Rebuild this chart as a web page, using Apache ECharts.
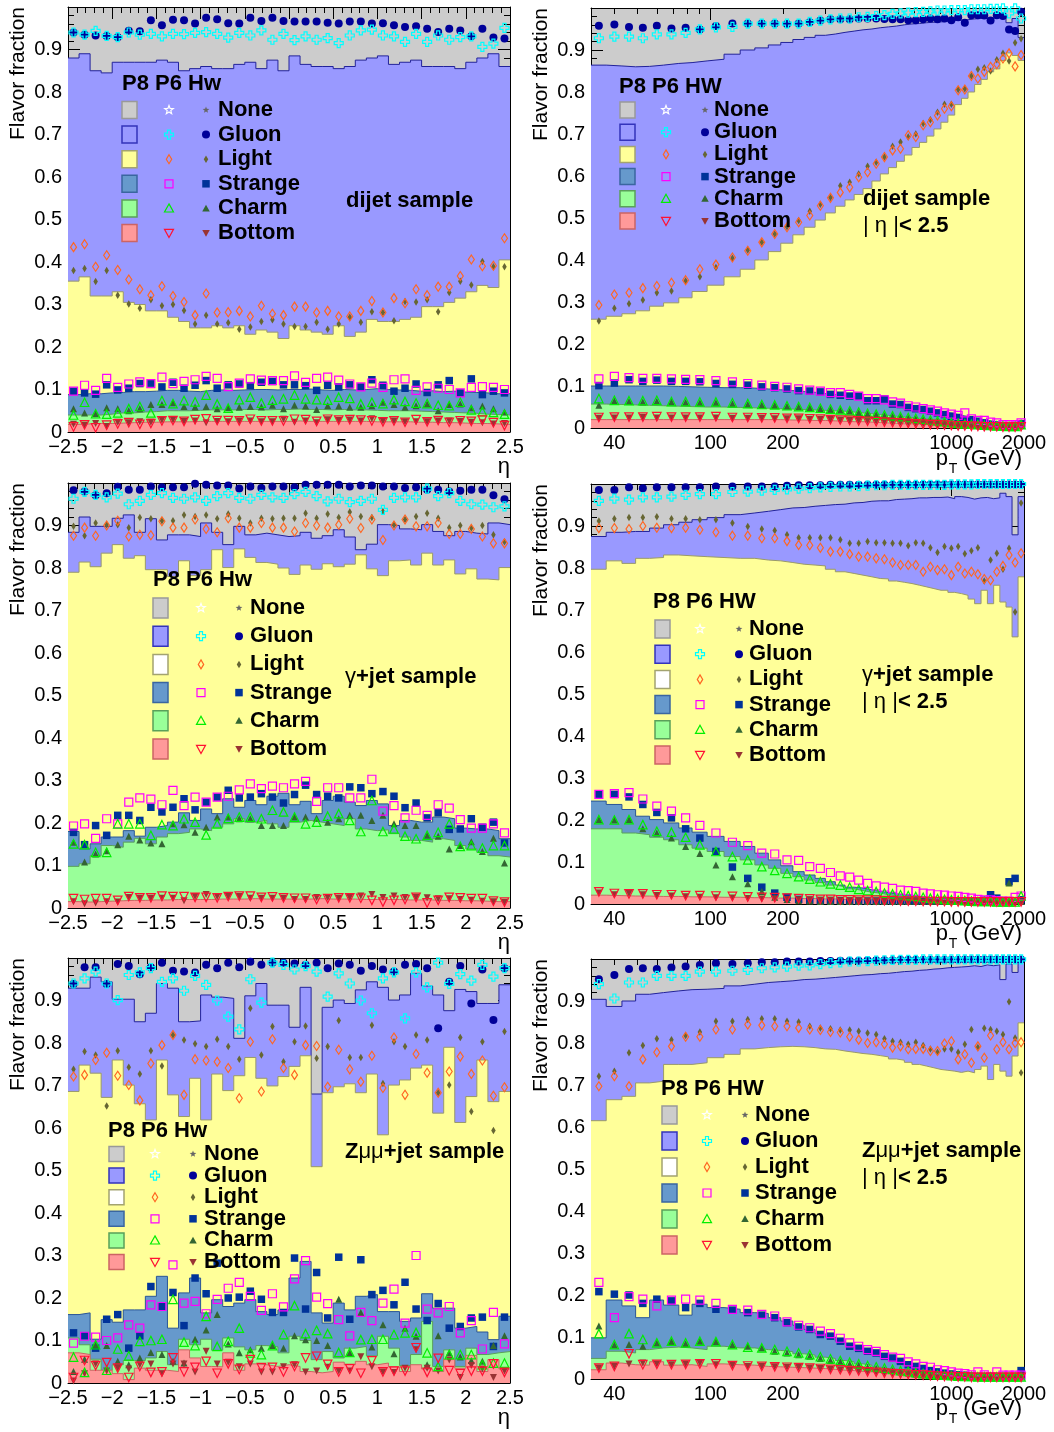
<!DOCTYPE html>
<html><head><meta charset="utf-8">
<script src="https://cdn.jsdelivr.net/npm/echarts@6/dist/echarts.min.js"></script>
<style>html,body{margin:0;padding:0;background:#fff}#c{width:1054px;height:1432px}</style>
</head><body><div id="c"></div>
<script>
// ---------- binning / tick labels ----------
const ETA_NBINS = 40;
const ETA_EDGES = Array.from({length: ETA_NBINS + 1}, (_, i) => -2.5 + i * 0.125);
const PT_EDGES = [32,37,43,49,56,64,74,84,97,114,133,153,174,196,220,245,272,300,330,362,395,430,468,507,548,592,638,686,737,790,846,905,967,1032,1101,1172,1248,1327,1410,1497,1588,1684,1784,1890,2000];
const PT_LABELS = [40,100,200,1000,2000];
const PT_MAJOR = [100,1000];
const PT_MINOR = [40,50,60,70,80,90,200,300,400,500,600,700,800,900,2000];
const LEGEND_ROWS = ['None','Gluon','Light','Strange','Charm','Bottom'];

// ---------- values (percent, cumulative fractions) ----------
// dijet, eta
const dijetEta_P8_gluon = [88,89,85,84.5,87,87,87,87,87.5,87,85,85.5,86,85.5,85.5,86.5,87,85.5,87.5,85,88.5,86.5,86,86,85.5,86,87.5,88,88.5,86.5,87,87.5,86,86,86,85.5,87,88,89,86];
const dijetEta_P8_light = [35.5,36.5,32,32,33,30.5,30,28.5,28.5,27,26,24.5,24.5,25,24.5,25,23,24,23.5,22,25,24,23.5,23,25,22.5,23.5,26.5,26,26,26.5,27,29.5,29.5,30.5,31.5,33,34.5,34,40.5];
const dijetEta_P8_strange = [8.8,9,9,9.2,9.3,9.5,9.5,9.6,9.8,9.8,9.6,9.5,9.8,9.9,9.8,9.9,10,10,9.9,10,10,10.1,9.9,9.8,10,9.9,10,10.2,10,9.9,9.8,9.6,9.7,9.5,9.6,9.4,9.3,9.2,9,9];
const dijetEta_P8_charm = [4,4,4,4.2,4.5,4.5,4.7,4.8,5,5,5,5.1,5.2,5.2,5.2,5.3,5.3,5.2,5.3,5.3,5.4,5.3,5.3,5.2,5.3,5.2,5.2,5.1,5,5,5,4.9,4.8,4.7,4.6,4.5,4.4,4.2,4.1,4];
const dijetEta_P8_bottom = [1.8,1.9,2,2,2.1,2.2,2.3,2.3,2.4,2.4,2.4,2.5,2.5,2.5,2.5,2.5,2.5,2.5,2.5,2.5,2.6,2.5,2.5,2.5,2.5,2.5,2.5,2.4,2.4,2.4,2.4,2.3,2.3,2.2,2.2,2.1,2,2,1.9,1.8];
const dijetEta_HW_gluon = [94,93.5,93.3,93.2,92.9,94.4,94.3,96.9,95.7,97,96.9,96.1,97.5,97.1,96.2,96.1,97.5,96.7,97.5,96.7,96.6,96.6,96.6,96.3,96.1,96.6,96.6,96.1,96.2,95.7,95.3,95.5,94.9,94.1,94.9,94.5,93.1,94.9,92.8,92.6];
const dijetEta_P6_gluon = [94,93.5,94.4,93.2,92.9,94,93.5,93.7,93.1,93.7,93.6,93.9,94.1,93.7,92.8,93.9,93.3,94.5,92.3,93.7,92.2,93.1,92.3,92.7,91.5,93.3,94.5,94.7,93.3,93.1,91.8,93.7,91.8,93.3,92.3,92.9,93.1,90.6,91.4,95.1];
const dijetEta_HW_light = [38,38.5,35.4,38,32.2,30.1,29.1,31.1,29.7,30,28.6,25.4,27.5,25.4,25.7,24.2,24.7,26,26.4,25.4,24.8,24.8,25.8,24.2,25.4,27,25.8,28.3,28.1,26.2,30.7,30.6,31.1,28.3,32.8,35.5,34.6,40.1,38.9,38.9];
const dijetEta_P6_light = [43.5,44.2,38.9,41.6,38.1,35.9,33.6,32.2,34.3,32,30.6,27.5,32.6,28.1,28.2,28.5,27.2,29.7,27.8,27.5,29.5,29.5,28.1,28.5,27.2,27.2,28.5,30.8,28.1,31.5,30.3,33.6,32.2,34.2,34.2,36.7,40.6,39,39.1,45.6];
const dijetEta_HW_strange = [9.6,9.2,8.9,11.1,9.9,10.3,11.4,11.5,10.6,11.7,10.3,11,12.1,10.3,11.1,11.3,10.9,11.7,11.9,11.1,11.1,10.9,9.8,11,10.6,11.1,10.6,12.3,11,9.6,10.3,11.3,9.3,11.1,12.1,9.2,12.5,8.8,9.6,9.2];
const dijetEta_P6_strange = [9.6,11,9.8,12.6,10.5,11.3,11.8,11.4,12.9,11.4,11.9,12.3,13.1,12.6,10.7,11.5,12.5,12.2,12.1,12.1,13.2,11.7,12.6,12.9,12.2,11.3,10.6,11.5,10.5,12.3,12.5,9.8,10.6,10.3,10,9.2,10.5,10.7,10.5,10];
const dijetEta_HW_charm = [5.5,4.5,4.3,5.7,5.5,5,5.5,6.5,6.5,6.9,6,5.9,6,5.5,5.7,5.8,6,5.9,6.3,5.5,6.3,6.1,5.3,6.2,6.1,5.8,5.8,6.2,7,6.5,5.8,6.2,6.6,5,6.5,6.6,5.7,6.1,5.5,4.7];
const dijetEta_P6_charm = [4,7,4.3,4.2,4.5,5.5,6,4.5,7.4,6.7,7.4,7.1,8.7,6.6,5.6,7.6,8.2,6.8,7.5,7.8,8.7,7.8,7.6,7.5,8.2,7.9,6.6,7,6.7,7.6,7.2,6.8,6.7,6.3,6.2,7,5.2,4.8,4.6,4.2];
const dijetEta_HW_bottom = [1.8,1.6,2,1.3,2.3,2.2,2.4,2.3,2.8,2.9,2.5,2.6,2.2,2.5,2.4,2.6,2.6,2.4,2.4,3,2.3,2.6,2.2,2.9,2.7,2.8,2.6,3.1,2.6,2.6,2.4,2.4,2.4,2.6,2.6,2.5,2.3,2.2,1.9,2];
const dijetEta_P6_bottom = [1.2,1.7,1,1.6,1.9,2.2,1.8,2,2.6,2.7,2.5,2.9,3.1,2.7,2.7,2.6,3,2.6,2.6,2.6,3,2.9,2.5,3,2.8,2.9,2.8,2.6,2.4,2.6,2.3,2.9,2.4,2.7,2.3,2.6,2.5,2.8,2.2,1.5];
// dijet, pT
const dijetPt_P8_gluon = [86.4,86.2,86,86.1,86.4,86.8,87,87.4,87.8,89,90,90.5,91.2,91.8,92.5,93,93.5,93.8,94.2,94.5,94.8,95,95.3,95.5,95.7,96,96.2,96.3,96.5,96.6,96.7,96.8,97,97.1,97.2,97.4,97.5,97.5,97.6,97.7,97.8,96.5,97.5,93];
const dijetPt_P8_light = [25.9,26.6,27.2,27.9,29,29.8,31,32.5,34,36,37.8,40,42,44,46,47.8,49.5,51.2,52.8,54.3,55.6,57,58.8,60.5,62,63.5,65,66.8,68,69.5,71.2,72.8,74.5,77,78.5,80,81.8,83,84.8,85.5,87.5,89.3,88.7,87.5];
const dijetPt_P8_strange = [10,10,10,10,10,9.9,9.8,9.7,9.6,9.6,9.5,9.3,9.1,8.9,8.7,8.5,8.2,8,7.8,7.5,7.2,6.9,6.6,6.2,5.9,5.6,5.2,4.9,4.6,4.3,4,3.7,3.4,3,2.7,2.4,2.1,1.8,1.6,1.4,1.2,1,0.9,1.2];
const dijetPt_P8_charm = [5.7,5.6,5.5,5.4,5.3,5.2,5.1,5,5,4.9,4.8,4.7,4.6,4.5,4.4,4.3,4.2,4.1,4,3.8,3.6,3.4,3.2,3,2.8,2.6,2.5,2.3,2.1,2,1.8,1.6,1.4,1.3,1.1,1,0.9,0.7,0.6,0.5,0.4,0.4,0.3,0.8];
const dijetPt_P8_bottom = [2,2,2,2,2,2,2,2,2,2,2,2,2,1.9,1.9,1.8,1.8,1.7,1.6,1.5,1.5,1.4,1.3,1.2,1.1,1,1,0.9,0.8,0.8,0.7,0.6,0.6,0.5,0.4,0.4,0.3,0.3,0.3,0.2,0.2,0.2,0.2,0.3];
const dijetPt_HW_gluon = [95.8,96.1,95.5,95.3,95.8,95.1,95.3,94.9,95.7,96.3,96.3,96.3,96.3,96.2,96.3,96.6,97,97.3,97.3,97.3,97.5,97.5,97.5,97.4,97.3,97.3,97.1,97.1,97.3,97.5,97.3,97.5,97.1,97.8,96.5,98.3,98.3,98.2,97,98.3,98.1,94.9,94.5,99.1];
const dijetPt_P6_gluon = [92.8,93.2,93.2,92.8,93.7,93.7,94.1,94.9,95.4,95.5,96.3,96.3,96.3,96.3,96.3,96.7,97,97.3,97.5,97.5,97.8,97.9,98.1,98.3,98.6,98.7,98.9,99,99.1,99.2,99.4,99.4,99.5,99.5,99.5,99.7,99.7,99.7,99.8,99.8,99.9,98.7,99.9,97.5];
const dijetPt_HW_light = [25.5,28.5,29.6,30.5,32.2,32.6,35,36,38.2,40.4,42.4,44.2,46.2,47.9,49.4,51.6,53.3,54.9,57.7,58.5,60.5,62.3,63.3,64.5,67.1,68.1,69.3,70,72.5,73.4,75.2,77.1,77.1,80.6,80.8,83.8,85.4,85.8,85,87.7,89.2,87.4,91.7,92.7];
const dijetPt_P6_light = [29.3,31.8,32.2,33.3,33.8,34.6,35.2,37.8,38.9,40.6,42.2,44.2,46.2,47.8,49,50.6,52.9,54.8,56.1,57.3,59.7,60.9,62.9,64.5,66.1,66.5,69.7,69.3,72.1,72.8,74.4,76,76.6,80.4,80.6,83.8,83.2,84.8,86,86.6,88,89.2,86.1,88.8];
const dijetPt_HW_strange = [10.1,10.7,11.5,11.1,11.4,11.1,11.1,11,10.6,10.4,10.2,9.8,9.6,9.3,8.9,8.8,8.6,8,7.8,7.6,7.6,6.5,6.5,6.9,5.7,5.6,4.9,4.6,4.4,4,3.6,3.2,2.8,2.5,2,2,1.6,1.2,0.8,0.6,0.4,0.4,0.6,1];
const dijetPt_P6_strange = [11.7,12.3,12,11.8,11.8,11.7,11.6,11.5,11.3,11,10.6,10.2,9.9,9.7,9.3,9,8.8,8.4,8.4,8,7.6,7,7,6.7,6.2,5.9,5.3,5,4.6,4.3,4,3.6,3.3,3,3.6,2.2,1.8,1.8,1.4,1.2,0.8,0.8,0.8,1.2];
const dijetPt_HW_charm = [5.4,6.4,6.3,6.2,6.3,6.2,6.1,6,6,5.8,5.6,5.5,5.4,5.2,5,4.8,4.6,4.4,4.2,4,3.7,3.4,3.2,3,2.8,2.6,2.4,2.2,2,1.8,1.6,1.4,1.2,1,0.9,0.8,0.7,0.6,0.5,0.5,0.4,0.4,0.3,0.6];
const dijetPt_P6_charm = [7,6.6,6.5,6.5,6.6,6.3,6.3,6.2,6.2,6,5.8,5.6,5.5,5.3,5.1,4.9,4.7,4.5,4.3,4.1,3.8,3.5,3.3,3.1,2.9,2.7,2.5,2.3,2.1,1.9,1.7,1.5,1.3,1.1,1,0.9,0.8,0.7,0.6,0.5,0.5,0.4,0.4,0.8];
const dijetPt_HW_bottom = [2.3,2.4,2.4,2.5,2.4,2.4,2.4,2.4,2.4,2.3,2.3,2.3,2.2,2.2,2.2,2.1,2,2,1.9,1.8,1.8,1.7,1.6,1.5,1.4,1.3,1.2,1.1,1,0.9,0.8,0.7,0.6,0.5,0.5,0.4,0.4,0.3,0.3,0.3,0.2,0.2,0.2,0.3];
const dijetPt_P6_bottom = [2.5,2.6,2.6,2.6,2.7,2.6,2.6,2.6,2.7,2.5,2.5,2.4,2.4,2.3,2.3,2.2,2.1,2,1.9,1.8,1.7,1.6,1.5,1.4,1.3,1.2,1.1,1,0.9,0.8,0.8,0.7,0.6,0.5,0.5,0.4,0.4,0.3,0.3,0.3,0.2,0.2,0.2,0.3];
// gamma+jet, eta
const gjEta_P8_gluon = [88.4,92,89.8,89.8,91.7,92.5,88.4,91.6,86.6,87.8,87.8,87.4,90.6,88.4,85.5,89.8,87.8,88.2,87.8,87.4,87.6,88.4,87,87.6,89,87.3,84.3,85.6,90.2,90,89.2,89,90.2,88.6,87.6,88.6,88.2,88,90.6,90.2];
const gjEta_P8_light = [79,81.4,80.3,83.5,85.5,82.3,82.9,79.6,79.6,78,81.7,78.2,79.6,84.3,80.1,84.5,82.5,81.3,80.9,80,78.5,80.7,79.7,81,80.3,80.9,83.1,79.8,78.2,81.7,81.9,80.7,83.5,80.7,81.9,78.6,79.8,77.4,77.2,80.1];
const gjEta_P8_strange = [18,13.9,15.1,16.7,16.7,18.2,16.9,19,19.4,20.2,22.4,20.6,23.3,22.2,25.7,23.7,25.3,24.3,26.3,27,24.3,25.1,22.2,25.3,26.3,24.9,24.1,25.3,24.5,19.4,20.6,20.2,20.2,21.4,21,18.8,18.6,18.6,18.2,16.3];
const gjEta_P8_charm = [9.8,10.4,12.3,14.7,14.3,15.5,16.4,15.1,16.7,17.5,17.8,18.6,18.2,19,19.8,21,20.2,20.6,19.8,19,20.2,20.6,20.2,19.8,19.4,21,18.6,18.2,18.4,17.5,16.7,15.9,15.5,16.3,15.9,14.7,13.9,13.1,12.3,12];
const gjEta_P8_bottom = [1.5,1.4,1.5,1.6,1.7,1.8,1.8,1.9,1.9,2,2,2,2,2.1,2.1,2.1,2.2,2.1,2.1,2.1,2.1,2.1,2.2,2.1,2.1,2.1,2,2,2,2,1.9,1.9,1.9,1.8,1.8,1.7,1.7,1.6,1.5,1.5];
const gjEta_HW_gluon = [98.3,98,97.1,97.6,99.1,98.4,98.4,99.2,99,99,99,99.8,99.6,99.4,99.4,98.7,99.2,98.8,99.2,99.2,99,99.6,99.6,99.6,99.6,99.2,99.4,99.4,99.2,99.2,98.8,99,98.4,98.4,98,98.2,98.4,98.4,97.1,96.2];
const gjEta_P6_gluon = [96.3,97.9,97.2,96.6,97.5,95,95.8,97.2,97.6,96.5,96.3,96.6,95.8,96.9,97.6,96.5,96.3,97.2,96.6,96.5,97.4,97.9,96.9,95.7,96.3,95.5,95.8,96.3,93.7,96.5,96.6,96.6,98.7,96.9,97.6,95.8,95,94.9,94.3,94.5];
const gjEta_HW_light = [89.8,87.6,90.6,90.2,90.2,89.5,91.9,91.6,91.1,91.1,92.5,92.1,92.5,91.6,92.7,91.7,90.6,91.7,91.6,91.7,91.7,92.9,91.7,92.7,91.9,93.2,92.1,91.9,93.3,90.2,91.4,92.1,92.9,91.7,89.5,90,89.4,90,87.8,86.2];
const gjEta_P6_light = [87.6,89.5,87.6,90,91.1,87.4,87.8,87.7,91,89.5,89.5,91.4,89.2,88.4,91.7,89.5,89.5,90.6,89.5,89.5,88.6,90.6,90,89.5,90.2,91.6,89.4,91.4,86.6,90,91.4,89.8,89.8,90.6,88,88,89.2,87.4,85.8,85.8];
const gjEta_HW_strange = [17.8,14.9,19.4,17.1,21.8,21.8,20.6,23.7,22.6,23.7,25.7,23.1,24.9,26.1,27.7,25.9,26.1,26.9,26.1,24.7,26.7,28.9,26.7,26.3,25.9,28.5,28.3,26.9,27.4,26.3,23.6,24.7,21.2,22.4,18.5,18.6,21,19,20.2,15.3];
const gjEta_P6_strange = [19.3,19.8,16.4,21,19.8,24.9,25.9,25.6,24.3,27.7,24.1,26.1,24.9,26.1,26.3,27.8,29.2,28.1,28.7,28.3,29.2,29.8,25.1,28.3,28.3,25.9,25.9,30.3,22.8,24.1,21.2,23,21.8,24.3,23.5,20.8,18.8,18.8,19.8,17.7];
const gjEta_HW_charm = [15.5,10.8,12.7,13.5,14.9,16.9,16,15.3,15.1,19.8,19.6,17.8,19,21.4,21.4,21,21,19.4,19.4,19.4,21.4,21.4,21.1,20.2,21,21.8,21.8,20.6,21.8,19.8,19.4,19.4,17.1,16.9,13.9,14.7,15.6,13.3,16.4,10.6];
const gjEta_P6_charm = [15.1,14.9,13.1,13.1,19.8,19.8,19.8,17.1,19.6,19.4,21,20.2,17.2,19.8,21.1,21.4,21.4,21,23,22.6,21.4,19.8,20.2,21.6,22.2,20.6,18,25.3,18,18.6,16.9,16.3,17.1,17.8,19.8,14.5,14.7,14.1,14.7,14.7];
const gjEta_HW_bottom = [1.5,1,1.2,1.5,1.4,2.5,2.3,2.3,2.3,2.3,1.7,2.7,3.2,2.7,2.7,2.7,2.3,2.3,2.3,2.3,2,2,2.5,2.5,2.3,2.5,2.8,3.2,2.5,2.8,2.5,2.5,2.4,2.2,2.2,2,1.8,1.6,1.5,1.3];
const gjEta_P6_bottom = [2.2,2,2.2,2.2,1.8,2.7,2.4,2.4,2.8,2.7,2.7,2.5,2.5,2.4,2.7,2.8,2.8,2.5,2.6,2.4,2.3,2.3,2,2.2,2.4,2.4,2.3,1.8,1.4,1.8,2,2.5,1.2,1.8,2.5,2.4,2.2,2.2,1.6,1.4];
// gamma+jet, pT
const gjPt_P8_gluon = [87.5,88.5,88.7,88.7,89.5,90.3,90.9,91.5,92,92.7,93.1,93.5,93.9,94.3,94.4,94.7,94.9,95.1,95.2,95.5,95.6,95.9,96,96,96.3,96.4,96.5,96.7,96.7,96.8,96.8,96.9,96.5,97,96.8,96.4,96.7,96.8,96.5,96.7,97.8,97,87.9,97];
const gjPt_P8_light = [79.7,81.7,81.1,82.3,82.5,83.1,82.9,82.7,82.5,82.3,82.3,81.9,81.7,81.3,80.9,80.7,80.5,79.7,79.1,78.7,78.3,77.9,77.5,77.4,76.9,76.6,76.3,75.9,75.5,75.1,74.7,74.7,74.2,73.9,73.5,72.6,71.5,74.7,71.5,75.9,71.9,70.7,63.6,77.9];
const gjPt_P8_strange = [24.5,23.7,22.5,20.9,20.1,19.3,18.1,17.1,16.1,14.9,13.7,12.1,10.5,9.1,7.7,6.9,6.1,5.3,4.5,4,3.8,3.4,3,2.7,2.4,2.2,2,1.8,1.6,1.4,1.3,1.2,1.1,1,1,0.9,0.9,0.8,0.8,0.7,0.7,0.7,0.7,1.2];
const gjPt_P8_charm = [17.9,17.9,16.9,16.5,15.9,15.3,14.1,13.3,12.5,11.3,10.5,9.3,8.5,7.3,6.5,5.7,5.1,4.5,4.1,3.6,3.2,2.8,2.6,2.2,2,1.8,1.6,1.4,1.3,1.1,1.1,1,0.9,0.8,0.8,0.7,0.7,0.6,0.6,0.6,0.6,0.6,0.6,0.8];
const gjPt_P8_bottom = [2.1,2,1.9,1.9,1.8,1.8,1.7,1.7,1.6,1.6,1.5,1.5,1.4,1.4,1.3,1.3,1.2,1.2,1.1,1.1,1,1,1,0.9,0.9,0.9,0.8,0.8,0.8,0.7,0.7,0.7,0.6,0.6,0.6,0.5,0.5,0.5,0.5,0.5,0.5,0.5,0.5,0.5];
const gjPt_HW_gluon = [98.6,98.6,99.2,99,99.2,99.2,99.2,99.2,99.4,99.4,99.4,99.4,99.4,99.6,99.7,99.7,99.7,99.8,99.8,99.8,99.8,99.8,99.8,99.8,99.8,99.8,99.8,99.8,99.9,99.9,99.9,99.9,99.9,99.9,99.9,99.9,99.9,99.9,99.9,99.9,99.9,99.9,99.9,99.9];
const gjPt_P6_gluon = [96,96.5,96.3,96.8,96.8,97,97.4,97.6,97.6,98.1,98.2,98.4,98.6,98.7,98.9,99,99.2,99.3,99.4,99.4,99.5,99.6,99.7,99.7,99.8,99.8,99.8,99.8,99.8,99.8,99.8,99.8,99.9,99.9,99.9,99.9,100,100,100,100,100,100,100,100];
const gjPt_HW_light = [91.2,91.7,92,92,92.2,91.7,91.7,91.5,91.5,90.7,89.9,89.3,88.9,87.9,87.2,87.2,87.2,87.2,86.7,85.9,85.9,86.3,86,86,85.9,85.9,85.3,86,85.9,84.8,83.7,85.1,84.7,85.1,83.4,84.1,84.8,76.9,81.9,83.5,79.7,84.7,69.5,95.5];
const gjPt_P6_light = [89.5,89.5,89.3,90,89.6,89.5,89.6,89.1,88.5,87.7,87.7,87.1,87.1,86.4,85.5,85.4,84.8,83.9,83.9,83.3,82.7,82.7,82.3,82.1,81.3,80.7,80.7,80.7,79.1,80.3,79.5,79.7,78.3,80.3,78.7,79.1,78.5,77.4,77.1,79.1,80.5,83.1,81.3,83.5];
const gjPt_HW_strange = [26.1,26.1,25.5,23.7,21.8,20.5,17.9,15.7,12.5,8.8,6.1,4,2.6,1.6,1.1,0.9,0.8,0.8,0.8,0.7,0.7,0.7,0.7,0.7,0.7,0.7,0.7,0.7,0.7,0.7,0.7,0.7,0.7,0.7,0.7,0.7,0.7,0.9,2.2,1.4,0.8,5.3,6.1,1];
const gjPt_P6_strange = [26.1,26.3,26.5,25,23.3,22.1,20.5,18.7,16.9,14.7,13.9,12.1,11.9,10.5,10.4,8.9,8.5,7.5,6.7,6.4,5.7,4.9,4.3,4,3.7,3.3,3.2,3,2.6,2.4,2.2,2.1,1.9,1.8,1.6,1.4,1.1,1,1,0.8,0.7,0.7,1.6,1.9];
const gjPt_HW_charm = [20.1,20,20.1,17.9,16.9,15.7,13.7,12,9.3,6.5,4.8,3,1.6,1.1,0.8,0.7,0.6,0.6,0.6,0.6,0.6,0.6,0.6,0.6,0.6,0.6,0.6,0.6,0.6,0.6,0.6,0.6,0.6,0.6,0.6,0.6,0.6,0.7,0.6,0.6,0.6,5,0.8,0.6];
const gjPt_P6_charm = [20.1,20,20.1,18.9,17.3,17.1,15.9,14.1,12.5,11.3,10.5,8.9,8,7.3,6.5,5.9,5.3,4.8,4.5,4,3.5,3.2,3,2.6,2.4,2.2,2,1.8,1.6,1.4,1.3,1.1,1,0.9,0.8,0.7,0.6,0.6,0.6,0.5,0.5,0.5,0.5,1.9];
const gjPt_HW_bottom = [2.6,2.2,2.5,2.2,2,1.9,1.7,1.6,1.5,1.4,1.3,1.2,1.2,1.1,1,1,0.9,0.9,0.8,0.8,0.8,0.7,0.7,0.7,0.6,0.6,0.6,0.6,0.5,0.5,0.5,0.5,0.5,0.4,0.4,0.4,0.4,0.4,0.4,0.4,0.4,0.4,0.4,0.4];
const gjPt_P6_bottom = [2.9,2.5,2.4,2.4,2.2,2.2,2,2,1.9,1.8,1.7,1.6,1.5,1.4,1.3,1.2,1.1,1.1,1,1,0.9,0.9,0.9,0.8,0.8,0.7,0.7,0.7,0.6,0.6,0.6,0.6,0.5,0.5,0.5,0.5,0.5,0.5,0.5,0.5,0.5,0.5,0.5,0.5];
// Zmumu+jet, eta
const zEta_P8_gluon = [92.9,92.9,95.5,94.4,90.3,90.3,85,87,94,92.9,85,85.2,91.3,90.8,90.5,81.1,91.1,94,88.9,88.9,83.7,93.1,68,88.4,90.1,89.3,92.5,94.4,93.1,90.1,91.3,96.4,93.4,91.3,87.6,92.6,92.1,89.3,89.3,93.7];
const zEta_P8_light = [68.6,74.8,72.9,67.2,76,70.1,65.7,61.9,76,67.8,62.7,71.7,61.9,72.7,68.8,72.3,76.6,71.7,69.9,72.1,74.5,77,50.9,68.3,69.7,70.4,68.3,72.7,58.4,70.1,71.3,74.1,74.8,63.5,79,61.3,67.4,76,66.2,68.6];
const zEta_P8_strange = [16.1,16.5,10.3,14.9,14.3,17.2,17.2,20.4,25.1,12.9,21.2,24.7,16.5,19.6,18,18.8,19.6,16.8,16.1,17.2,24.7,28.6,16.5,14.1,18.8,17.2,20.4,20.8,16.8,16.8,14.5,15.3,21,17.6,17.6,12.9,13.3,12,10.2,15.7];
const zEta_P8_charm = [10.6,9,5.6,3,4.3,5.3,5.3,5.9,7.4,4.3,10.3,9,10.3,7.7,10.6,8.5,7.8,8.8,8.5,7.1,11,10,5.5,7.4,5.9,8.2,8.6,6.4,11,8.2,4.1,6.7,14.5,3.9,7.8,3.9,8.2,6.7,7.1,7.4];
const zEta_P8_bottom = [7.1,6.7,3,3,2.2,0.8,3.5,3,3,2.7,7.8,5.9,3.9,3.8,7.1,3,4.5,4.3,3.9,4.3,3.9,2.7,2.4,2.7,4.9,4.3,5.1,4.3,4.7,3.8,2.7,4.3,3.3,2.7,5.5,3.5,6.5,2.7,5.5,3.3];
const zEta_HW_gluon = [93.9,97.8,97.8,93.9,98.6,98.1,96.2,97.8,98.9,97,96.8,96.6,98.4,97.6,98.9,97.8,99.1,98.4,98.9,98.9,98.7,98.4,98.9,97.6,98.7,98.4,97,98.1,97.3,96.8,98.4,98.6,97.6,83.5,94.4,98.1,89.3,97.3,85.4,97.6];
const zEta_P6_gluon = [94,95.2,96.8,94,90.1,96,96.6,97.6,94.4,95.2,92.3,95.8,93.7,90,86.2,83.2,95,89.5,98.9,98.4,97.3,98.1,96.8,90.9,96.4,94,90,87,95.2,96.6,85.8,96.6,93.1,98.9,93.9,96.2,94.7,98.4,95.6,97.6];
const zEta_HW_light = [73.8,78,77.2,65.2,78.2,74.3,72.7,78.2,74.6,81.9,80.7,79.8,79.2,80.9,79.2,76.2,88.2,77.2,83.9,75.6,80.3,84,76.4,79.2,85.3,76.6,76.6,84.2,70.5,80.3,79.2,81.9,80.7,68.3,70.1,81.3,63.9,80.3,59.4,82.7];
const zEta_P6_light = [72.1,72.5,76,77.7,72.3,70.1,66.5,75.2,79.5,81.9,67.8,76.2,75.9,75.6,74.1,67,80.3,68.6,80.9,74.1,72.5,79.5,79.3,69.7,78.4,73.8,70.9,77,69.4,81.3,67.8,77.4,73,68.3,73.3,76.8,72.7,75.9,67.6,69.6];
const zEta_HW_strange = [11.8,11.1,8.2,15,16.1,8.2,11.1,22.7,18,21.3,13.5,24.7,21,28.2,20,20.2,21.6,19.7,16.6,16.6,29.4,17.4,26,15.3,29.6,15,29,20.8,21.8,18.4,23.7,17.4,14.7,18.7,12.9,13.3,15.3,15.5,8.6,15.5];
const zEta_P6_strange = [9.4,11,10.8,10,10.6,13.7,12.9,18.4,18,27.8,18.8,19.2,16.3,19.7,22.3,23.7,20.4,17.1,21,17.9,24.5,28.8,20.2,18.7,14.9,11.1,16.6,14.7,18.8,22.1,14.1,30,17.4,16.5,18,11.8,14.7,8,16.6,9.2];
const zEta_HW_charm = [2.7,5.6,9,8.8,5.1,4.3,5.9,7.2,6.7,5.1,4.7,10.3,12.5,16.1,9.2,7.1,7.8,8.2,8.8,8.2,11.1,10.2,10,8.8,19.7,7.1,16.6,8.5,13.7,6.9,12.9,11,4.3,11.1,7.1,6.1,5.3,5.1,8.8,11.1];
const zEta_P6_charm = [6.1,2.5,9,3,8,6.4,9.8,10,10.3,19.7,9.6,8.8,15.7,8.6,9.8,12.9,7.1,6.7,8.8,11.4,18.2,11.6,12.4,11.6,7.2,7.2,10.2,10.3,10.3,11.4,11.8,11.9,7.1,3.9,6.7,6.7,6.7,4.3,4.7,4.7];
const zEta_HW_bottom = [0.5,2.2,4.5,2.8,3.5,3.3,4.3,4.5,2.2,4.5,4.5,2.6,7.5,4.5,4.9,3.8,4.5,2.6,2.6,3.8,4.3,2.6,2.8,3.7,2.8,2.8,6.2,3.8,2.6,2.5,3.5,7.8,3.5,2.8,5.4,1.3,4.1,3.3,1.3,2.8];
const zEta_P6_bottom = [1.3,5.3,4.1,4.8,3.5,1.3,3.9,2.5,2.6,5.9,2.6,3.7,5.1,2.3,4.5,3.2,5.5,3.6,3.7,2.6,3.9,5.9,6.3,4.4,2.6,3.4,2.3,5.2,2.6,2.8,2.8,8.3,2.5,5.8,2.9,2.2,2.8,2.8,4.5,2.5];
// Zmumu+jet, pT
const zPt_P8_gluon = [90.4,88.7,90,91.6,92,92.4,92.7,92.8,93,93.6,94,94.4,94.6,94.8,95.1,95.2,95.4,95.6,95.8,96,96.2,96.3,96.5,96.6,96.8,97,97.1,97.3,97.4,97.6,97.7,97.9,98,98.1,98.2,98.4,98.2,98.6,98.4,98.6,95.1,98.8,96.8,99.4];
const zPt_P8_light = [61.5,66.5,67.3,70.5,70.9,74.9,74.9,75.3,76.5,77.3,78.6,78.9,79.1,79.2,79.1,78.9,78.6,78.5,78.1,77.8,77.5,77.3,77,76.7,76.2,75.9,75.4,74.9,74.5,74.1,73.7,73.5,73.3,73,73.3,72.9,73.7,74.5,71.3,74.9,73.3,72.1,76.9,84.8];
const zPt_P8_strange = [9.8,18.8,17.4,14.6,18.8,17.6,15.2,17.8,17,16.6,15.8,15.6,14.6,13.8,12.8,11.8,10.8,10,9,8.2,7.4,6.6,5.8,5,4.4,3.8,3.3,2.6,2.2,1.8,1.4,1.2,1,0.9,0.8,0.7,0.6,0.6,0.5,0.5,0.5,0.5,0.5,0.5];
const zPt_P8_charm = [4.9,6.6,6.2,7,7.4,7.6,7.4,7,7.8,7.4,7.4,7,6.8,6.5,6,5.7,5.2,4.9,4.4,4.1,3.6,3.3,2.8,2.5,2.2,1.8,1.6,1.4,1.2,1,0.9,0.8,0.7,0.6,0.5,0.5,0.4,0.4,0.4,0.4,0.4,0.4,0.4,0.4];
const zPt_P8_bottom = [2.2,3.8,3.4,3.3,4.1,3.3,3.4,3,3.6,3.4,3.3,3,2.9,2.8,2.7,2.6,2.5,2.3,2.1,2,1.8,1.7,1.5,1.4,1.2,1.1,1,0.9,0.8,0.7,0.6,0.5,0.5,0.4,0.4,0.3,0.3,0.3,0.3,0.3,0.3,0.3,0.3,0.3];
const zPt_HW_gluon = [95.2,96.2,97.6,97.8,97.6,98,98.2,98.6,99,98.8,99,99.2,99.2,99.4,99.4,99.4,99.5,99.5,99.6,99.6,99.6,99.7,99.7,99.7,99.7,99.8,99.8,99.8,99.8,99.8,99.8,99.8,99.8,99.8,99.9,99.9,99.9,99.9,99.9,99.9,99.9,99.9,99.9,99.9];
const zPt_P6_gluon = [94,90.6,94.4,94.4,96,96,96,97,97,97.2,97.4,97.8,98,98.2,98.4,98.5,98.8,99,99.2,99.4,99.4,99.5,99.6,99.7,99.8,99.8,99.8,99.8,99.9,99.9,99.9,99.9,99.9,99.9,99.9,99.9,99.9,99.9,99.9,99.9,99.9,99.9,99.9,99.9];
const zPt_HW_light = [72.1,73.3,77.7,79.4,81,80.8,81.8,82.6,85.2,85.2,85.6,85.8,85.8,85.2,85,84,83.6,83.4,83.1,83.1,82.8,82.4,82,81,80.4,80.2,79.7,80.2,79.4,78.6,77.8,78.6,78.6,77.8,79.7,83.2,78.9,83.5,83.2,82.8,82,89.8,81.2,72.9];
const zPt_P6_light = [69.7,72.1,69.7,76.1,77.8,79.2,81.5,81.5,83.2,83.2,84.4,84.2,84,84,83.6,83.2,83.1,82.6,82.5,81.5,80.8,80,80.2,79.7,78.9,79.2,78.5,78.6,78.6,78.1,78.1,79.9,80.4,76.1,77.3,75.3,79.2,76.5,81.8,78.5,80.2,78.5,80,80.2];
const zPt_HW_strange = [20.8,20.2,20,18,19,18.6,17,18,16.6,16.4,15.8,15.2,14.6,13.4,12.4,11.8,10.6,10.2,9,7.8,7.3,6.6,6.2,5.4,5,4.2,3.4,3,2.5,2,1.7,1.4,1.2,1,0.9,0.7,0.6,0.6,0.6,0.6,0.6,0.6,0.6,2];
const zPt_P6_strange = [23,14.6,19.6,19,17.4,18.8,19,18.8,18,16.6,16.4,15.4,15,13.6,12.8,12.2,11.4,10.8,9.7,8.6,7.8,7,6.6,5.8,5.2,4.9,4.1,3.6,3,2.8,2.2,2,1.7,1.4,1.3,1,1.7,1,0.6,1.7,0.9,0.9,0.9,0.9];
const zPt_HW_charm = [12.6,8.1,8.2,7.8,8.6,8.9,8.4,9,8.9,8.1,7.8,7.4,6.6,6.2,5.8,5.4,4.9,4.4,4.1,3.6,3.3,2.8,2.5,2.2,2,1.7,1.4,1.2,1,0.9,0.8,0.7,0.7,0.6,0.6,0.5,0.5,0.5,0.5,0.5,0.5,0.5,0.5,0.5];
const zPt_P6_charm = [10.8,8.2,10.8,9.4,8.6,9,8.6,9,8.9,8.2,7.6,7.4,7,6.6,6.2,5.8,5.3,4.8,4.4,4,3.6,3.2,2.9,2.6,2.3,2,1.8,1.5,1.3,1.1,1,0.9,0.8,0.7,0.6,0.6,0.5,0.5,0.5,0.5,0.5,0.5,0.5,0.5];
const zPt_HW_bottom = [2.6,3,3.6,3.8,3.6,3.4,3.6,3.8,3.4,3.3,3,3,2.9,2.8,2.8,2.6,2.5,2.3,2.2,2,1.9,1.7,1.6,1.4,1.3,1.2,1.1,1,0.9,0.8,0.7,0.6,0.6,0.5,0.5,0.4,0.4,0.4,0.4,0.4,0.4,0.4,0.4,0.4];
const zPt_P6_bottom = [2.6,3,6,3.4,3.5,3.4,3.5,3.6,3.6,3.2,3.1,3,2.9,2.8,2.7,2.6,2.5,2.3,2.2,2,1.9,1.7,1.6,1.4,1.3,1.2,1.1,1,0.9,0.8,0.7,0.6,0.6,0.5,0.5,0.4,0.4,0.4,0.4,0.4,0.4,0.4,0.4,0.4];

// ---------- styling ----------
const FONT = '"Liberation Sans", Arial, Helvetica, sans-serif';
const FLAVORS = ['gluon','light','strange','charm','bottom'];
const FILL = {gluon:'#9999ff', light:'#ffff99', strange:'#6699cc', charm:'#99ff99', bottom:'#ff9999'};
const EDGE = {gluon:'#22229a', light:'#99996a', strange:'#2a5596', charm:'#5aa05a', bottom:'#cc6464'};
const CROSS = 'path://M2,0L4,0L4,2L6,2L6,4L4,4L4,6L2,6L2,4L0,4L0,2L2,2Z';
const P6STY = {
  gluon:{symbol:CROSS, size:9, color:'#00ffff'},
  light:{symbol:'diamond', size:[6,9], color:'#ff6622'},
  strange:{symbol:'rect', size:8, color:'#ff00ff'},
  charm:{symbol:'triangle', size:8.5, color:'#00ee00'},
  bottom:{symbol:'triangle', size:8.5, color:'#ff1133', rotate:180}
};
const HWSTY = {
  gluon:{symbol:'circle', size:8, color:'#000099'},
  light:{symbol:'diamond', size:[4.5,7.5], color:'#666633'},
  strange:{symbol:'rect', size:7.5, color:'#003399'},
  charm:{symbol:'triangle', size:7, color:'#336633'},
  bottom:{symbol:'triangle', size:7, color:'#993333', rotate:180}
};

const ETA_TXT = '{n|| η |}{b|< 2.5}';
const PANELS = [
  {kind:'eta', d:{P8:{gluon:dijetEta_P8_gluon,light:dijetEta_P8_light,strange:dijetEta_P8_strange,charm:dijetEta_P8_charm,bottom:dijetEta_P8_bottom},
                  P6:{gluon:dijetEta_P6_gluon,light:dijetEta_P6_light,strange:dijetEta_P6_strange,charm:dijetEta_P6_charm,bottom:dijetEta_P6_bottom},
                  HW:{gluon:dijetEta_HW_gluon,light:dijetEta_HW_light,strange:dijetEta_HW_strange,charm:dijetEta_HW_charm,bottom:dijetEta_HW_bottom}},
   g:[68,7,442,425], hw:'Hw', lightFilled:true,
   L:{tx:122,ty:84,x:122,y0:110,dy:24.6,bh:17,p6:169,hw:206,lx:218},
   texts:[{x:346,y:201,t:'{b|dijet sample}'}], xt:467},
  {kind:'pt', d:{P8:{gluon:dijetPt_P8_gluon,light:dijetPt_P8_light,strange:dijetPt_P8_strange,charm:dijetPt_P8_charm,bottom:dijetPt_P8_bottom},
                 P6:{gluon:dijetPt_P6_gluon,light:dijetPt_P6_light,strange:dijetPt_P6_strange,charm:dijetPt_P6_charm,bottom:dijetPt_P6_bottom},
                 HW:{gluon:dijetPt_HW_gluon,light:dijetPt_HW_light,strange:dijetPt_HW_strange,charm:dijetPt_HW_charm,bottom:dijetPt_HW_bottom}},
   g:[591,8,433,420], hw:'HW', lightFilled:true,
   L:{tx:619,ty:87,x:620,y0:110,dy:22.2,bh:16,p6:666,hw:705,lx:714},
   texts:[{x:863,y:199,t:'{b|dijet sample}'},{x:863,y:226,t:ETA_TXT}], xt:459},
  {kind:'eta', d:{P8:{gluon:gjEta_P8_gluon,light:gjEta_P8_light,strange:gjEta_P8_strange,charm:gjEta_P8_charm,bottom:gjEta_P8_bottom},
                  P6:{gluon:gjEta_P6_gluon,light:gjEta_P6_light,strange:gjEta_P6_strange,charm:gjEta_P6_charm,bottom:gjEta_P6_bottom},
                  HW:{gluon:gjEta_HW_gluon,light:gjEta_HW_light,strange:gjEta_HW_strange,charm:gjEta_HW_charm,bottom:gjEta_HW_bottom}},
   g:[68,483,442,425], hw:'Hw', lightFilled:false,
   L:{tx:153,ty:580,x:153,y0:608,dy:28.2,bh:20,p6:201,hw:239,lx:250},
   texts:[{x:345,y:677,t:'{n|γ}{b|+jet sample}'}], xt:943},
  {kind:'pt', d:{P8:{gluon:gjPt_P8_gluon,light:gjPt_P8_light,strange:gjPt_P8_strange,charm:gjPt_P8_charm,bottom:gjPt_P8_bottom},
                 P6:{gluon:gjPt_P6_gluon,light:gjPt_P6_light,strange:gjPt_P6_strange,charm:gjPt_P6_charm,bottom:gjPt_P6_bottom},
                 HW:{gluon:gjPt_HW_gluon,light:gjPt_HW_light,strange:gjPt_HW_strange,charm:gjPt_HW_charm,bottom:gjPt_HW_bottom}},
   g:[591,484,433,420], hw:'HW', lightFilled:false,
   L:{tx:653,ty:602,x:655,y0:629,dy:25.2,bh:18,p6:700,hw:739,lx:749},
   texts:[{x:862,y:675,t:'{n|γ}{b|+jet sample}'},{x:862,y:702,t:ETA_TXT}], xt:934},
  {kind:'eta', d:{P8:{gluon:zEta_P8_gluon,light:zEta_P8_light,strange:zEta_P8_strange,charm:zEta_P8_charm,bottom:zEta_P8_bottom},
                  P6:{gluon:zEta_P6_gluon,light:zEta_P6_light,strange:zEta_P6_strange,charm:zEta_P6_charm,bottom:zEta_P6_bottom},
                  HW:{gluon:zEta_HW_gluon,light:zEta_HW_light,strange:zEta_HW_strange,charm:zEta_HW_charm,bottom:zEta_HW_bottom}},
   g:[68,958,442,425], hw:'Hw', lightFilled:false,
   L:{tx:108,ty:1131,x:109,y0:1154,dy:21.6,bh:15,p6:155,hw:193,lx:204},
   texts:[{x:345,y:1152,t:'{b|Z}{n|μμ}{b|+jet sample}'}], xt:1418},
  {kind:'pt', d:{P8:{gluon:zPt_P8_gluon,light:zPt_P8_light,strange:zPt_P8_strange,charm:zPt_P8_charm,bottom:zPt_P8_bottom},
                 P6:{gluon:zPt_P6_gluon,light:zPt_P6_light,strange:zPt_P6_strange,charm:zPt_P6_charm,bottom:zPt_P6_bottom},
                 HW:{gluon:zPt_HW_gluon,light:zPt_HW_light,strange:zPt_HW_strange,charm:zPt_HW_charm,bottom:zPt_HW_bottom}},
   g:[591,959,433,420], hw:'HW', lightFilled:false,
   L:{tx:661,ty:1089,x:662,y0:1115,dy:26,bh:18,p6:707,hw:745,lx:755},
   texts:[{x:862,y:1151,t:'{b|Z}{n|μμ}{b|+jet sample}'},{x:862,y:1178,t:ETA_TXT}], xt:1409}
];

// ---------- helpers ----------
function stepData(edges, vals){
  const d = vals.map((v, i) => [edges[i], v / 100]);
  d.push([edges[vals.length], vals[vals.length - 1] / 100]);
  return d;
}
function pointData(edges, vals){
  return vals.map((v, i) => [(edges[i] + edges[i + 1]) / 2, v / 100]);
}
const tickLine = {color:'#000', width:1};
function etaAxis(gi, pos, labels){
  return {type:'value', gridIndex:gi, position:pos, min:-2.5, max:2.5, interval:0.5,
    axisLine:{show:true, onZero:false, lineStyle:tickLine},
    axisTick:{show:true, inside:true, length:12, lineStyle:tickLine},
    minorTick:{show:true, splitNumber:5, length:6, lineStyle:tickLine},
    splitLine:{show:false}, minorSplitLine:{show:false},
    axisLabel:{show:labels, margin:5, color:'#000', fontSize:20, fontFamily:FONT,
      formatter: v => (Math.abs(v) < 1e-9 ? '0' : String(+v.toFixed(2))).replace('-', '\u2212')}};
}
function ptAxis(gi, pos, labels, ticks, len, line){
  return {type:'log', logBase:10, gridIndex:gi, position:pos, min:32, max:2000,
    axisLine:{show:line, onZero:false, lineStyle:tickLine},
    axisTick:{show:true, inside:true, length:len, lineStyle:tickLine, customValues:ticks},
    minorTick:{show:false}, splitLine:{show:false},
    axisLabel:{show:labels, margin:5, color:'#000', fontSize:20, fontFamily:FONT,
      customValues: labels ? PT_LABELS : undefined, formatter: v => String(Math.round(v))}};
}
function yAxis(gi, pos, labels){
  return {type:'value', gridIndex:gi, position:pos, min:0, max:1, interval:0.1,
    axisLine:{show:true, onZero:false, lineStyle:tickLine},
    axisTick:{show:true, inside:true, length:12, lineStyle:tickLine},
    minorTick:{show:true, splitNumber:5, length:6, lineStyle:tickLine},
    splitLine:{show:false}, minorSplitLine:{show:false},
    axisLabel:{show:labels, margin:6, color:'#000', fontSize:20, fontFamily:FONT,
      formatter: v => v > 0.999 ? '' : (v < 1e-9 ? '0' : v.toFixed(1))}};
}
// legend glyphs
function glyph(kind, cx, cy, s, open, color){
  const style = open ? {fill:'none', stroke:color, lineWidth:1.2} : {fill:color};
  const h = s / 2;
  let el;
  if (kind === 'circle') el = {type:'circle', shape:{cx, cy, r:h}};
  else if (kind === 'rect') el = {type:'rect', shape:{x:cx - h, y:cy - h, width:s, height:s}};
  else if (kind === 'up') el = {type:'polygon', shape:{points:[[cx, cy - h], [cx + h, cy + h * 0.8], [cx - h, cy + h * 0.8]]}};
  else if (kind === 'down') el = {type:'polygon', shape:{points:[[cx, cy + h], [cx + h, cy - h * 0.8], [cx - h, cy - h * 0.8]]}};
  else if (kind === 'diamond') el = {type:'polygon', shape:{points:[[cx, cy - h], [cx + h * 0.6, cy], [cx, cy + h], [cx - h * 0.6, cy]]}};
  else if (kind === 'cross') { const a = h / 3; el = {type:'polygon', shape:{points:[[cx-a,cy-h],[cx+a,cy-h],[cx+a,cy-a],[cx+h,cy-a],[cx+h,cy+a],[cx+a,cy+a],[cx+a,cy+h],[cx-a,cy+h],[cx-a,cy+a],[cx-h,cy+a],[cx-h,cy-a],[cx-a,cy-a]]}}; }
  else { const pts = []; for (let i = 0; i < 10; i++) { const r = i % 2 ? h * 0.42 : h; const an = -Math.PI / 2 + i * Math.PI / 5; pts.push([cx + r * Math.cos(an), cy + r * Math.sin(an)]); } el = {type:'polygon', shape:{points:pts}}; }
  el.style = style; el.z = 100; el.silent = true;
  return el;
}
const P6G = [['star',9,true,'#ffffff'],['cross',9,true,'#00ffff'],['diamond',9,true,'#ff6622'],['rect',8,true,'#ff00ff'],['up',9,true,'#00ee00'],['down',9,true,'#ff1133']];
const HWG = [['star',7,false,'#666666'],['circle',8,false,'#000099'],['diamond',7.5,false,'#666633'],['rect',7.5,false,'#003399'],['up',7.5,false,'#336633'],['down',7.5,false,'#993333']];

// ---------- build option ----------
const option = {animation:false, backgroundColor:'#ffffff', grid:[], xAxis:[], yAxis:[], series:[], graphic:[]};
const BOLD = 'bold 22px ' + FONT;
PANELS.forEach((P, gi) => {
  const [gl, gt, gw, gh] = P.g;
  option.grid.push({left:gl, top:gt, width:gw, height:gh, show:true, backgroundColor:'#cccccc', borderWidth:0, containLabel:false, outerBoundsMode:'none'});
  const xi = option.xAxis.length, yi = option.yAxis.length;
  const edges = P.kind === 'eta' ? ETA_EDGES : PT_EDGES;
  if (P.kind === 'eta') {
    option.xAxis.push(etaAxis(gi, 'bottom', true));
    option.xAxis.push(etaAxis(gi, 'top', false));
  } else {
    option.xAxis.push(ptAxis(gi, 'bottom', true, PT_MAJOR, 12, true));
    option.xAxis.push(ptAxis(gi, 'bottom', false, PT_MINOR, 6, false));
    option.xAxis.push(ptAxis(gi, 'top', false, PT_MAJOR, 12, true));
    option.xAxis.push(ptAxis(gi, 'top', false, PT_MINOR, 6, false));
  }
  option.yAxis.push(yAxis(gi, 'left', true));
  option.yAxis.push(yAxis(gi, 'right', false));
  // P8 stacked (cumulative) histograms
  FLAVORS.forEach((f, k) => {
    option.series.push({type:'line', name:'P8 ' + f, xAxisIndex:xi, yAxisIndex:yi, step:'end', symbol:'none', silent:true,
      data: stepData(edges, P.d.P8[f]), lineStyle:{color:EDGE[f], width:1}, areaStyle:{color:FILL[f], opacity:1, origin:'start'}, z:2 + k});
  });
  // HW filled markers, P6 open markers
  FLAVORS.forEach(f => {
    const s = HWSTY[f];
    option.series.push({type:'scatter', name:'HW ' + f, xAxisIndex:xi, yAxisIndex:yi, symbol:s.symbol, symbolSize:s.size, symbolRotate:s.rotate || 0,
      data: pointData(edges, P.d.HW[f]), itemStyle:{color:s.color, opacity:1}, z:10, silent:true});
  });
  FLAVORS.forEach(f => {
    const s = P6STY[f];
    option.series.push({type:'scatter', name:'P6 ' + f, xAxisIndex:xi, yAxisIndex:yi, symbol:s.symbol, symbolSize:s.size, symbolRotate:s.rotate || 0,
      data: pointData(edges, P.d.P6[f]), itemStyle:{color:'rgba(0,0,0,0)', borderColor:s.color, borderWidth:1.2, opacity:1}, z:11, silent:true});
  });
  // legend
  const L = P.L;
  option.graphic.push({type:'text', x:L.tx, y:L.ty, z:100, silent:true, style:{text:'P8 P6 ' + P.hw, font:BOLD, fill:'#000', verticalAlign:'middle'}});
  const boxes = [['#cccccc','#999999'],['#9999ff','#3333bb'],[P.lightFilled ? '#ffff99' : '#ffffff','#a3a370'],['#6699cc','#3a66a0'],['#99ff99','#5aa05a'],['#ff9999','#cc6464']];
  LEGEND_ROWS.forEach((r, i) => {
    const cy = L.y0 + i * L.dy;
    option.graphic.push({type:'rect', z:100, silent:true, shape:{x:L.x, y:cy - L.bh / 2, width:15, height:L.bh}, style:{fill:boxes[i][0], stroke:boxes[i][1], lineWidth:1.5}});
    option.graphic.push(glyph(P6G[i][0], L.p6, cy, P6G[i][1], P6G[i][2], P6G[i][3]));
    option.graphic.push(glyph(HWG[i][0], L.hw, cy, HWG[i][1], HWG[i][2], HWG[i][3]));
    option.graphic.push({type:'text', x:L.lx, y:cy, z:100, silent:true, style:{text:r, font:BOLD, fill:'#000', verticalAlign:'middle'}});
  });
  P.texts.forEach(t => option.graphic.push({type:'text', x:t.x, y:t.y, z:100, silent:true,
    style:{text:t.t, verticalAlign:'middle', fill:'#000', rich:{b:{font:BOLD, fill:'#000'}, n:{font:'22px ' + FONT, fill:'#000'}}}}));
  // axis titles
  option.graphic.push({type:'text', x: gl - 50, y: gt, rotation: Math.PI / 2, z:100, silent:true,
    style:{text:'Flavor fraction', font:'21px ' + FONT, fill:'#000', align:'right', verticalAlign:'middle'}});
  if (P.kind === 'eta') {
    option.graphic.push({type:'text', x: gl + gw, y: P.xt, z:100, silent:true, style:{text:'η', font:'22px ' + FONT, fill:'#000', align:'right', verticalAlign:'middle'}});
  } else {
    option.graphic.push({type:'text', x: gl + gw - 2, y: P.xt, z:100, silent:true, style:{text:'(GeV)', font:'22px ' + FONT, fill:'#000', align:'right', verticalAlign:'middle'}});
    option.graphic.push({type:'text', x: gl + gw - 71, y: P.xt + 10, z:100, silent:true, style:{text:'T', font:'14px ' + FONT, fill:'#000', align:'center', verticalAlign:'middle'}});
    option.graphic.push({type:'text', x: gl + gw - 76, y: P.xt, z:100, silent:true, style:{text:'p', font:'22px ' + FONT, fill:'#000', align:'right', verticalAlign:'middle'}});
  }
});

const chart = echarts.init(document.getElementById('c'), null, {renderer:'canvas', width:1054, height:1432});
chart.setOption(option);
</script>
</body></html>
